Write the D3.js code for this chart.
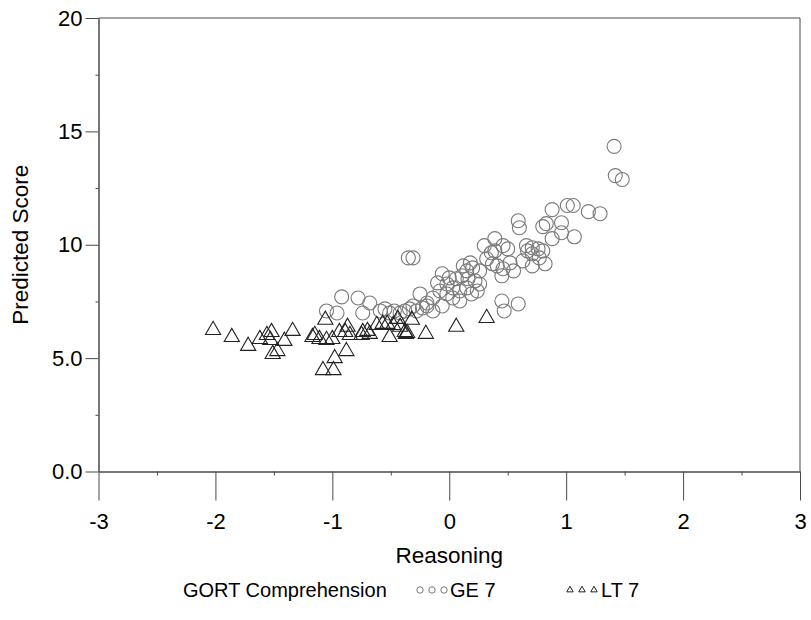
<!DOCTYPE html>
<html><head><meta charset="utf-8">
<script src="https://cdn.jsdelivr.net/npm/d3@7"></script>
<style>body{margin:0;background:#fff}svg{display:block}text{font-family:"Liberation Sans",Arial,sans-serif;fill:#000}</style>
</head><body><svg id="c" width="811" height="620"></svg>
<script>
// GE 7 (circles): [Reasoning, Predicted Score]
const geX = [-0.35,-0.31,0.59,0.60,0.88,0.80,0.83,0.96,0.96,0.88,1.01,1.06,1.19,1.29,1.07,1.41,1.42,1.48,0.39,0.46,0.50,0.36,0.39,0.32,0.37,0.41,0.46,0.45,0.66,0.71,0.76,0.80,0.67,0.71,0.77,0.82,0.63,0.71,0.26,0.18,0.20,0.12,-0.06,0.00,0.06,0.11,0.16,0.22,0.26,-0.02,0.03,0.09,0.15,-0.08,-0.10,-0.02,0.03,0.09,0.24,0.19,-0.14,-0.19,-0.25,-0.23,-0.28,-0.34,-0.38,-0.42,-0.47,-0.51,-0.55,-0.14,-0.06,0.45,0.47,0.59,-0.92,-0.78,-0.68,-1.05,-0.96,-0.74,-0.59,-0.31,-0.19,0.15,0.52,0.55,0.30];
const geY = [9.42,9.42,11.06,10.75,11.55,10.80,10.93,10.97,10.53,10.27,11.73,11.73,11.46,11.37,10.35,14.34,13.05,12.88,10.27,9.96,9.82,9.65,9.73,9.38,9.16,9.07,8.94,8.63,9.96,9.87,9.82,9.73,9.73,9.60,9.42,9.16,9.29,9.07,8.85,9.20,8.98,9.07,8.72,8.54,8.50,8.63,8.50,8.41,8.27,8.27,8.10,7.96,8.10,7.96,8.32,7.83,7.65,7.52,7.96,7.83,7.65,7.43,7.83,7.21,7.08,7.17,7.08,6.99,7.08,6.99,7.17,7.08,7.30,7.52,7.08,7.39,7.70,7.65,7.43,7.08,6.99,6.99,7.08,7.30,7.30,8.85,9.20,8.85,9.96];
// LT 7 (triangles)
const ltX = [-2.02,-1.86,-1.72,-1.62,-1.56,-1.52,-1.53,-1.41,-1.34,-1.51,-1.47,-1.17,-1.15,-1.11,-1.06,-1.05,-1.00,-0.94,-0.89,-0.87,-0.85,-0.98,-0.88,-1.08,-0.99,-0.75,-0.74,-0.70,-0.68,-0.62,-0.57,-0.53,-0.51,-0.48,-0.44,-0.42,-0.38,-0.37,-0.36,-0.32,-0.20,0.06,0.32];
const ltY = [6.28,5.97,5.58,5.88,6.06,6.19,5.84,5.80,6.24,5.22,5.35,5.97,6.06,5.88,6.73,5.84,5.88,6.19,6.19,6.42,6.06,5.04,5.35,4.51,4.51,6.06,6.19,6.24,6.11,6.50,6.55,6.55,5.97,6.50,6.77,6.42,6.19,6.11,6.15,6.73,6.11,6.42,6.81];

const xTicks = [-3,-2,-1,0,1,2,3];
const xTickLabels = ["-3","-2","-1","0","1","2","3"];
const yTicks = [0,5,10,15,20];
const yTickLabels = ["0.0","5.0","10","15","20"];
const xTitle = "Reasoning", yTitle = "Predicted Score";
const legendTitle = "GORT Comprehension", seriesNames = ["GE 7","LT 7"];

const svg = d3.select("#c");
const x = d3.scaleLinear().domain([-3,3]).range([98.5,800]);
const y = d3.scaleLinear().domain([0,20]).range([471.5,18]);
const axisCol = "#4a4a4a";

// frame (top and right)
const g = svg.append("g");
g.append("line").attr("x1",x(-3)).attr("x2",x(3)).attr("y1",y(20)).attr("y2",y(20)).attr("stroke",axisCol);
g.append("line").attr("x1",x(3)).attr("x2",x(3)).attr("y1",y(20)).attr("y2",y(0)).attr("stroke",axisCol);

// y axis
const ya = svg.append("g").attr("transform",`translate(${x(-3)},0)`)
  .call(d3.axisLeft(y).tickValues(yTicks).tickSize(13).tickPadding(3).tickSizeOuter(0)
    .tickFormat((d,i)=>yTickLabels[i]));
const yminor = svg.append("g").attr("transform",`translate(${x(-3)},0)`)
  .call(d3.axisLeft(y).tickValues([2.5,7.5,12.5,17.5]).tickSize(3).tickSizeOuter(0).tickFormat(""));
// x axis
const xa = svg.append("g").attr("transform",`translate(0,${y(0)})`)
  .call(d3.axisBottom(x).tickValues(xTicks).tickSize(29).tickPadding(13).tickSizeOuter(0)
    .tickFormat((d,i)=>xTickLabels[i]));
const xminor = svg.append("g").attr("transform",`translate(0,${y(0)})`)
  .call(d3.axisBottom(x).tickValues([-2.5,-1.5,-0.5,0.5,1.5,2.5]).tickSize(4).tickSizeOuter(0).tickFormat(""));
[ya,yminor,xa,xminor].forEach(a=>{
  a.selectAll("path,line").attr("stroke",axisCol).attr("stroke-width",1);
  a.selectAll("text").attr("font-size",22).attr("font-family","Liberation Sans, Arial, sans-serif").attr("fill","#000");
});

// titles
svg.append("text").attr("x",(x(-3)+x(3))/2).attr("y",563).attr("text-anchor","middle").attr("font-size",22.5).text(xTitle);
svg.append("text").attr("transform",`translate(28,${(y(0)+y(20))/2}) rotate(-90)`).attr("text-anchor","middle").attr("font-size",22.5).text(yTitle);

const triSym = d3.symbol().type(d3.symbolTriangle).size(100);
const circCol = "#7a7a7a";
svg.append("g").selectAll("circle").data(geX.map((v,i)=>[v,geY[i]])).join("circle")
  .attr("cx",d=>x(d[0])).attr("cy",d=>y(d[1])).attr("r",7)
  .attr("fill","none").attr("stroke",circCol).attr("stroke-width",1.1);
svg.append("g").selectAll("path").data(ltX.map((v,i)=>[v,ltY[i]])).join("path")
  .attr("d",triSym).attr("transform",d=>`translate(${x(d[0])},${y(d[1])+1})`)
  .attr("fill","none").attr("stroke","#222").attr("stroke-width",1.1);

// legend
const ly = 597;
svg.append("text").attr("x",183).attr("y",ly).attr("font-size",20).text(legendTitle);
const lg = svg.append("g");
[420,432,444].forEach(cx=>lg.append("circle").attr("cx",cx).attr("cy",ly-7).attr("r",3.2).attr("fill","none").attr("stroke",circCol));
lg.append("text").attr("x",450).attr("y",ly).attr("font-size",20).text(seriesNames[0]);
const smallTri = d3.symbol().type(d3.symbolTriangle).size(18);
[570,582,594].forEach(cx=>lg.append("path").attr("d",smallTri).attr("transform",`translate(${cx},${ly-7})`).attr("fill","none").attr("stroke","#222"));
lg.append("text").attr("x",601).attr("y",ly).attr("font-size",20).text(seriesNames[1]);
</script></body></html>
